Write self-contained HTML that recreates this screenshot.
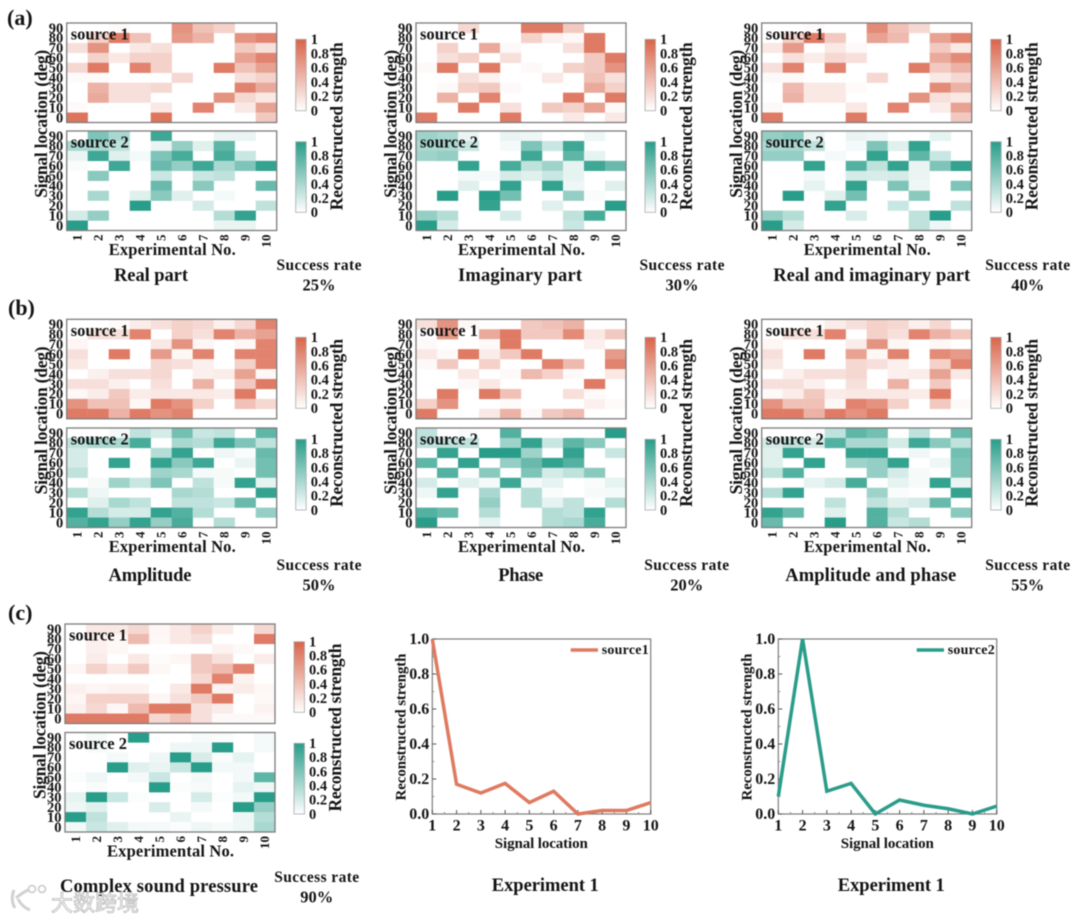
<!DOCTYPE html>
<html lang="en">
<head>
<meta charset="utf-8">
<title>Reconstructed strength heatmaps</title>
<style>
html,body{margin:0;padding:0;background:#fff;}
#figure{display:block;width:1080px;height:920px;filter:blur(0.6px);}
#figure text{font-family:"Liberation Serif","Noto Sans CJK SC",serif;font-weight:bold;fill:#141414;}
</style>
</head>
<body>
<svg id="figure" xmlns="http://www.w3.org/2000/svg" width="1080" height="920" viewBox="0 0 1080 920">
  <defs>
    <linearGradient id="grad-red" x1="0" y1="1" x2="0" y2="0"><stop offset="0" stop-color="#ffffff"/><stop offset="1" stop-color="#d9644a"/></linearGradient>
    <linearGradient id="grad-green" x1="0" y1="1" x2="0" y2="0"><stop offset="0" stop-color="#ffffff"/><stop offset="1" stop-color="#289d89"/></linearGradient>
  </defs>
  <rect width="1080" height="920" fill="#fff"/>
  <text x="7" y="25" font-size="22">(a)</text>
  <text x="8" y="315" font-size="22">(b)</text>
  <text x="8" y="620" font-size="22">(c)</text>
  <g id="charts"></g>
  <g opacity="0.95">
    <path d="M14 890 q-4 10 1 18 M16 898 q6 -5 12 -8 M18 899 q4 8 12 11" fill="none" stroke="#cfcfcf" stroke-width="3"/>
    <circle cx="32" cy="889" r="3.5" fill="#fff" stroke="#c8c8c8" stroke-width="1.6"/>
    <circle cx="42" cy="889" r="3.5" fill="#fff" stroke="#c8c8c8" stroke-width="1.6"/>
    <text x="51" y="911" font-size="22" style="fill:#fff;stroke:#b5b5b5;stroke-width:.8;font-weight:normal;font-family:'Noto Sans CJK SC',sans-serif">大数跨境</text>
  </g>
</svg>
<script>
const experiments = [1,2,3,4,5,6,7,8,9,10];
const signalLocations = [90,80,70,60,50,40,30,20,10,0];
const colorbarTicks = ['1','0.8','0.6','0.4','0.2','0'];
const colorbarValues = [1,0.8,0.6,0.4,0.2,0];
const lineYTicks = ['0.0','0.2','0.4','0.6','0.8','1.0'];
const lineYValues = [0,0.2,0.4,0.6,0.8,1];

const realS1 = [
[0,0,.03,0,0,.7,.4,.3,0,0],
[0,.3,.85,.4,0,.65,.5,0,.7,.8],
[.2,.7,0,.15,.2,0,0,0,.35,.2],
[0,.3,.15,.3,.3,0,0,0,.6,.8],
[.25,.85,0,.8,.3,0,0,.85,.4,.6],
[.03,.03,0,0,0,.25,0,0,.2,.3],
[0,.5,.2,.2,.25,0,0,0,.8,.55],
[0,.55,.2,.2,0,0,0,.7,.25,.15],
[.03,0,0,0,.15,0,.8,0,.15,.6],
[.9,0,0,0,.9,0,0,0,0,.35]];
const realS2 = [
[0,.6,.4,0,.9,0,0,.1,.1,0],
[.4,.4,.3,0,.1,.5,.15,.75,0,0],
[.1,.9,.15,.05,.6,.85,0,.85,.25,0],
[.03,0,.9,0,.7,.5,.9,.4,.6,.95],
[0,.55,0,0,.25,0,.25,.3,0,0],
[0,0,0,0,.7,0,.55,0,0,.7],
[0,.4,0,.15,.55,.15,0,.05,0,0],
[0,0,0,1,0,0,.2,0,0,.3],
[.2,.5,0,0,0,0,0,.35,.95,0],
[1,0,0,0,0,0,0,.1,.1,0]];
const imagS1 = [
[0,0,.25,0,0,.85,.85,.35,0,0],
[0,0,0,0,0,.3,.1,.05,.85,0],
[0,.3,0,.55,.04,0,0,.2,.85,0],
[0,.2,.3,0,.2,0,0,0,.35,.85],
[.04,.85,0,.85,0,.04,0,.3,.35,.7],
[0,0,.2,.08,0,0,.15,0,.4,.2],
[0,.04,.3,.35,.04,0,0,0,.55,.3],
[0,.5,0,.8,0,0,0,.85,0,.85],
[0,0,.85,0,.2,0,.35,.3,.6,.04],
[.85,0,0,0,.85,0,0,.15,0,.15]];
const imagS2 = [
[.45,.4,.1,0,.1,.08,0,0,.08,0],
[.4,.4,.25,0,.05,.6,.25,.9,0,0],
[.45,.5,0,0,0,.9,0,.75,.12,0],
[0,0,.95,0,.85,.3,.45,.12,.9,.7],
[0,0,.05,.05,.2,.15,.25,.12,0,0],
[0,0,.15,0,.95,0,.95,.08,0,.15],
[0,1,0,1,.65,0,0,.5,.03,0],
[0,0,0,.95,0,0,.15,0,0,1],
[.5,.35,0,0,.2,0,0,.3,.85,0],
[1,.2,0,0,0,0,0,.25,0,0]];
const bothS1 = [
[0,0,.03,0,0,.75,.4,.25,0,0],
[0,.3,.85,.35,0,.6,.45,0,.6,.8],
[.15,.65,0,.15,.04,0,0,0,.35,.15],
[0,.2,.12,.25,.2,0,0,0,.55,.75],
[.2,.8,0,.8,0,0,0,.85,.35,.5],
[.04,.03,0,0,0,.25,0,0,.15,.25],
[0,.45,.15,.15,.03,0,0,0,.75,.5],
[0,.5,.15,.15,0,0,0,.7,.2,.15],
[.04,0,0,0,.15,0,.8,0,.12,.6],
[.85,0,0,0,.85,0,0,0,0,.35]];
const bothS2 = [
[.5,.55,.1,0,.1,.08,0,0,.12,0],
[.4,.4,.3,0,.05,.6,.15,.95,0,0],
[.5,.5,0,.05,0,.95,0,.75,.25,0],
[0,0,.95,0,.8,.3,.95,.1,.6,.95],
[0,0,.05,0,.2,.18,.2,.1,0,0],
[0,0,.12,0,.95,0,.6,.08,0,.6],
[0,1,0,.15,.65,0,0,.55,0,0],
[0,0,0,.95,0,0,.25,0,0,.3],
[.5,.35,0,0,.18,0,0,.3,1,0],
[1,.2,0,0,0,0,0,.3,.08,0]];
const ampS1 = [
[0,0,.03,.12,.2,.3,.25,.1,.25,.8],
[0,.2,.2,.8,0,.3,.2,.8,.5,.6],
[.06,0,0,0,.15,.7,.06,0,.05,.8],
[.2,0,.85,0,.65,.05,.8,0,.8,.8],
[.15,0,0,0,.25,.2,.1,0,.3,.8],
[0,.1,.2,.2,.25,0,.1,.12,.6,.05],
[.2,.2,.1,0,.2,0,.5,0,.35,.85],
[.05,.12,.35,.12,.15,.15,.15,.12,.85,0],
[.7,.4,.4,.05,.85,.7,.3,0,.4,.25],
[.85,.85,.5,.85,.7,.8,0,0,0,0]];
const ampS2 = [
[0,0,.05,.3,.2,.65,.25,.3,0,.75],
[.3,.4,.4,.85,0,.4,.35,.9,.6,.3],
[.2,0,0,0,.35,.95,0,.08,.03,.7],
[.2,0,.95,0,.95,.55,.9,0,.1,.65],
[.3,0,0,0,.45,.4,.05,.04,0,.65],
[0,.04,.45,.25,.6,0,.3,.04,.95,.12],
[.35,.08,0,0,0,.4,.35,0,0,.95],
[0,.15,.4,.3,0,.3,.3,.25,.7,0],
[.95,.35,.2,.2,.95,.8,.35,0,0,.5],
[.8,.95,.5,.95,.5,.85,0,.35,0,0]];
const phaseS1 = [
[.2,.7,.05,0,0,.35,.4,.5,0,0],
[0,.65,0,.55,.85,.35,.35,.75,.15,.35],
[.04,0,0,.04,.85,0,0,0,.1,0],
[.15,.04,.85,.12,.35,.85,0,0,0,.65],
[.04,.35,0,.3,0,0,.8,.45,0,.8],
[0,0,.15,0,.04,.45,.3,.04,0,.15],
[0,0,.04,.15,0,0,0,0,.85,0],
[0,.85,0,.85,.4,0,0,.2,.03,0],
[.3,.7,0,0,.03,0,0,0,.1,.03],
[.85,0,0,.15,.5,.04,.35,.45,0,0]];
const phaseS2 = [
[.3,0,.03,0,.8,0,0,0,0,1],
[.3,.3,.3,0,.45,.95,.25,.75,.55,0],
[0,.95,0,1,1,.45,0,.95,0,.25],
[.75,0,.95,0,.5,.7,.95,.8,0,0],
[0,.8,0,.55,0,.6,.2,.3,.55,0],
[.2,0,.15,.05,.9,.05,.12,0,.03,.12],
[.08,.95,0,.4,0,.35,.03,0,.04,.05],
[0,0,0,.5,0,.35,.12,.3,0,.35],
[.8,.7,0,.35,0,0,.35,.3,.95,0],
[1,0,0,.12,0,0,.35,.4,.85,0]];
const apS1 = [
[0,0,.03,.12,.2,.3,.25,.1,.25,0],
[0,.2,.2,.8,0,.3,.2,.8,.5,.35],
[.06,0,0,0,.12,.7,.06,0,.05,0],
[.2,0,.85,0,.6,.05,.8,0,.75,.65],
[.15,0,0,0,.25,.2,.1,0,.3,.8],
[0,.1,.2,.2,.25,0,.1,.12,.6,.15],
[.2,.2,.1,0,.2,0,.5,0,.35,0],
[.04,.12,.35,.12,.15,.15,.15,.12,.85,0],
[.7,.4,.4,.05,.8,.7,.3,0,.35,.04],
[.85,.85,.5,.85,.7,.85,0,0,0,0]];
const apS2 = [
[0,0,.03,.3,.75,.65,0,.3,0,.7],
[.2,.3,.2,.8,.4,.4,.2,.9,.55,.3],
[.15,.95,0,0,.95,.95,0,.07,0,.65],
[.15,0,.95,0,.45,.5,.95,0,.08,.6],
[.3,.8,0,0,0,.5,.2,.04,0,.6],
[0,0,.12,.2,.85,0,.12,.04,.95,.1],
[.35,.95,0,0,0,.45,.03,0,0,.95],
[0,0,0,.3,0,.3,.15,.2,.7,0],
[.95,.7,0,.15,0,.8,.35,0,0,.55],
[.7,0,0,1,0,.8,.25,.35,0,0]];
const complexS1 = [
[0,.15,.15,.25,.06,.15,.3,.12,0,.25],
[0,.1,.05,.45,.05,.15,.2,0,0,.85],
[0,.1,.05,0,0,0,0,.08,.04,0],
[0,.12,0,.15,.02,.06,.35,.2,0,.12],
[.06,.3,.15,.35,.05,0,.35,.45,.8,0],
[0,0,0,0,0,0,.25,.8,.08,0],
[.1,.06,.08,.08,0,.15,.85,.08,.12,.05],
[.06,.3,.3,.3,.06,.2,.35,.85,0,.04],
[.1,.25,.06,.45,.85,.85,.2,.12,0,.08],
[.85,.85,.85,.85,.25,.4,.2,.04,.04,.04]];
const complexS2 = [
[0,.05,0,1,0,0,.04,.03,0,.05],
[0,.04,0,0,0,.08,.08,1,0,.05],
[0,0,.05,0,.08,1,.18,.03,.12,0],
[0,0,1,.15,.1,.25,1,.06,.06,0],
[.02,.08,0,.06,.25,0,.06,0,.06,.75],
[0,.03,0,0,1,.02,.04,0,.12,.08],
[.12,1,.25,.02,0,0,.2,.02,.06,1],
[.08,.15,0,0,.18,0,.05,0,1,.5],
[1,.3,0,0,0,.1,0,0,.08,.35],
[.06,.25,.15,.06,.05,.02,.08,.04,.08,.4]];

const lineLocations = [1,2,3,4,5,6,7,8,9,10];
const lineSource1 = [1,.17,.12,.175,.065,.13,0,.02,.02,.065];
const lineSource2 = [.1,1,.13,.175,0,.08,.05,.03,0,.045];

const NS = 'http://www.w3.org/2000/svg';
const root = document.getElementById('charts');
const RED = [217,100,74];
const GREEN = [40,157,137];
const BOX_W = 210, BOX_H = 99.5;

function make(tag, attrs, parent, txt){
  const el = document.createElementNS(NS, tag);
  for (const k in attrs) el.setAttribute(k, attrs[k]);
  if (txt !== undefined) el.textContent = txt;
  parent.appendChild(el);
  return el;
}
function shade(rgb, v){
  const c = rgb.map(ch => Math.round(255 + (ch - 255) * v));
  return 'rgb(' + c.join(',') + ')';
}

function drawHeatmap(parent, matrix, left, top, rgb, srcLabel, showXTicks){
  const xCol = i => left + i * BOX_W / experiments.length;
  const yRow = j => top + j * BOX_H / signalLocations.length;
  const g = make('g', {}, parent);
  
  
  matrix.forEach((row, j) => row.forEach((v, i) => {
    if (v <= 0) return;
    const cell = make('rect', {x: xCol(i), y: yRow(j), width: BOX_W/experiments.length + .2, height: BOX_H/signalLocations.length + .2, fill: shade(rgb, v)}, g);
    
    
  }));
  const box = make('rect', {x: left, y: top, width: BOX_W, height: BOX_H, fill: 'none', stroke: '#7d7d7d', 'stroke-width': 1.3}, g);
  
  
  signalLocations.forEach((loc, j) => {
    const y = yRow(j) + BOX_H / signalLocations.length / 2;
    const t = make('text', {x: left - 3.5, y: y + 4.8, 'font-size': 14.5, 'text-anchor': 'end'}, g, String(loc));
    
    
  });
  if (showXTicks) {
    experiments.forEach((ex, i) => {
      const x = xCol(i) + BOX_W / experiments.length / 2;
      const t = make('text', {x: x + 4.4, y: top + BOX_H + 4, 'font-size': 13, 'text-anchor': 'end', transform: 'rotate(-90 ' + (x + 4.4) + ' ' + (top + BOX_H + 4) + ')'}, g, String(ex));
      
      
    });
  }
  const s = make('text', {x: left + 4, y: top + 16.5, 'font-size': 16.5, textLength: 58}, g, srcLabel);
  
  
}

function drawColorbar(parent, x, y0, y1, gradId){
  const g = make('g', {}, parent);
  
  
  const r = make('rect', {x: x, y: y0, width: 10.5, height: y1 - y0, fill: 'url(#' + gradId + ')', stroke: '#aaa', 'stroke-width': .8}, g);
  
  
  const yVal = v => y1 + (y0 - y1) * v;
  colorbarValues.forEach((v, i) => {
    const t = make('text', {x: x + 15, y: yVal(v) + 4.8, 'font-size': 14.5}, g, colorbarTicks[i]);
    
    
  });
}

function rotatedLabel(parent, x, cy, txt, size, len){
  return make('text', {x: x, y: cy, 'font-size': size, 'text-anchor': 'middle', textLength: len, transform: 'rotate(-90 ' + x + ' ' + cy + ')'}, parent, txt);
}

const panels = [
 {key:'real-part', title:'Real part', titleW:74, rate:'25%', s1:realS1, s2:realS2, left:66.7, top1:23, top2:131, bar:[39.3,110.7,141.7,212.3], tx:151, ty:281, rx:319, ry:270},
 {key:'imaginary-part', title:'Imaginary part', titleW:124, rate:'30%', s1:imagS1, s2:imagS2, left:416, top1:23, top2:131, bar:[39.3,110.7,141.7,212.3], tx:520, ty:281, rx:682, ry:270},
 {key:'real-and-imaginary-part', title:'Real and imaginary part', titleW:197, rate:'40%', s1:bothS1, s2:bothS2, left:761.7, top1:23, top2:131, bar:[39.3,110.7,141.7,212.3], tx:871.7, ty:281, rx:1027.7, ry:270},
 {key:'amplitude', title:'Amplitude', titleW:83, rate:'50%', s1:ampS1, s2:ampS2, left:66.7, top1:319.3, top2:428, bar:[337.3,408.3,439.3,510], tx:150, ty:581, rx:319, ry:570},
 {key:'phase', title:'Phase', titleW:45, rate:'20%', s1:phaseS1, s2:phaseS2, left:416, top1:319.3, top2:428, bar:[337.3,408.3,439.3,510], tx:520.7, ty:581, rx:686.7, ry:570},
 {key:'amplitude-and-phase', title:'Amplitude and phase', titleW:171, rate:'55%', s1:apS1, s2:apS2, left:761.7, top1:319.3, top2:428, bar:[337.3,408.3,439.3,510], tx:870.7, ty:581, rx:1027.7, ry:570},
 {key:'complex-sound-pressure', title:'Complex sound pressure', titleW:198, rate:'90%', s1:complexS1, s2:complexS2, left:65, top1:624, top2:732.5, bar:[641.7,712.3,743.3,814], tx:159, ty:892, rx:316.7, ry:882}
];

panels.forEach(p => {
  const g = make('g', {}, root);
  
  
  drawHeatmap(g, p.s1, p.left, p.top1, RED, 'source 1', false);
  drawHeatmap(g, p.s2, p.left, p.top2, GREEN, 'source 2', true);
  drawColorbar(g, p.left + 229, p.bar[0], p.bar[1], 'grad-red');
  drawColorbar(g, p.left + 229, p.bar[2], p.bar[3], 'grad-green');
  const midY = (p.top1 + p.top2 + BOX_H) / 2;
  const yt = rotatedLabel(g, p.left - 19.5, midY - 3, 'Signal location (deg)', 17.5, 148);
  
  
  const ct = rotatedLabel(g, p.left + 276, midY - 0.5, 'Reconstructed strength', 17.5, 168);
  
  
  const xt = make('text', {x: p.left + 105.5, y: p.top2 + BOX_H + 24.5, 'font-size': 16.5, 'text-anchor': 'middle', textLength: 127}, g, 'Experimental No.');
  
  
  const tt = make('text', {x: p.tx, y: p.ty, 'font-size': 18.5, 'text-anchor': 'middle', textLength: p.titleW}, g, p.title);
  
  
  const sr = make('text', {x: p.rx, y: p.ry, 'font-size': 15.5, 'text-anchor': 'middle', textLength: 85}, g, 'Success rate');
  
  
  const rv = make('text', {x: p.rx, y: p.ry + 20.5, 'font-size': 16.5, 'text-anchor': 'middle', textLength: 33}, g, p.rate);
  
  
});

function drawLineChart(cfg, values){
  const L = cfg.left, R = cfg.left + 218.4, T = 639, B = 814;
  const xPos = v => L + (v - 1) * (R - L) / 9;
  const yPos = v => B - v * (B - T);
  const g = make('g', {}, root);
  
  
  const frame = make('rect', {x: L, y: T, width: R - L, height: B - T, fill: '#fff', stroke: '#7d7d7d', 'stroke-width': 1.2}, g);
  
  
  lineLocations.forEach((loc, i) => {
    const tick = make('line', {x1: xPos(loc), x2: xPos(loc), y1: B, y2: B - 4, stroke: '#555', 'stroke-width': 1}, g);
    
    
    if (i < lineLocations.length - 1) {
      const mid = xPos(loc + 0.5);
      const minor = make('line', {x1: mid, x2: mid, y1: B, y2: B - 2, stroke: '#777', 'stroke-width': .8}, g);
      
      
    }
    const t = make('text', {x: xPos(loc), y: 830.5, 'font-size': 16, 'text-anchor': 'middle'}, g, String(loc));
    
    
  });
  lineYValues.forEach((v, i) => {
    const tick = make('line', {x1: L, x2: L + 4, y1: yPos(v), y2: yPos(v), stroke: '#555', 'stroke-width': 1}, g);
    
    
    if (i < lineYValues.length - 1) {
      const my = yPos(v + 0.1);
      const minor = make('line', {x1: L, x2: L + 2, y1: my, y2: my, stroke: '#777', 'stroke-width': .8}, g);
      
      
    }
    const t = make('text', {x: L - 3, y: yPos(v) + 5.2, 'font-size': 16, 'text-anchor': 'end'}, g, lineYTicks[i]);
    
    
  });
  const pts = values.map((v, i) => xPos(lineLocations[i]) + ',' + yPos(v)).join(' ');
  const pl = make('polyline', {points: pts, fill: 'none', stroke: cfg.color, 'stroke-width': 3.5, 'stroke-linejoin': 'miter'}, g);
  
  
  const lk = make('line', {x1: L + 138.4, x2: L + 165.7, y1: 650, y2: 650, stroke: cfg.color, 'stroke-width': 3.5}, g);
  
  
  const lt = make('text', {x: L + 169.4, y: 654, 'font-size': 14, textLength: 47}, g, cfg.series);
  
  
  const xt = make('text', {x: L + 109, y: 848, 'font-size': 15, 'text-anchor': 'middle', textLength: 93}, g, 'Signal location');
  
  
  const yt = rotatedLabel(g, L - 27, 727, 'Reconstructed strength', 15, 147);
  
  
  const tt = make('text', {x: L + 113, y: 891, 'font-size': 18.5, 'text-anchor': 'middle', textLength: 107}, g, 'Experiment 1');
  
  
}
drawLineChart({left: 432.3, series: 'source1', color: '#df7a60'}, lineSource1);
drawLineChart({left: 778.3, series: 'source2', color: '#2a9d8a'}, lineSource2);
</script>
</body>
</html>
